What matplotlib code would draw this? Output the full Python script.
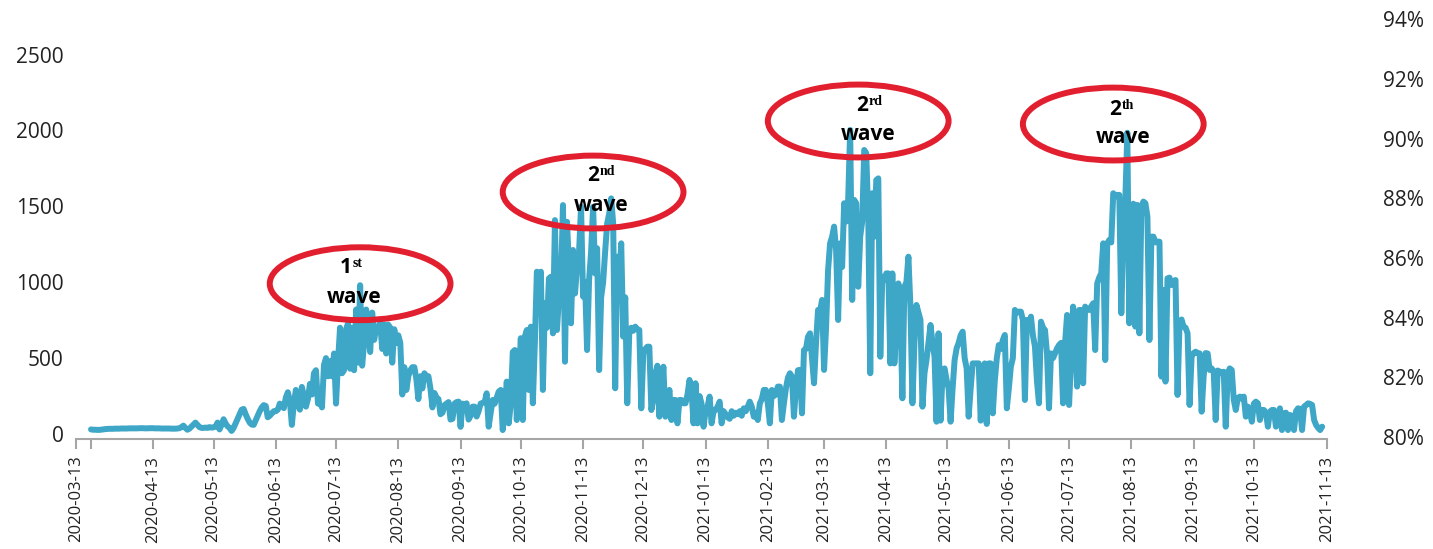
import matplotlib
matplotlib.use("Agg")
import matplotlib.pyplot as plt
import matplotlib.dates as mdates
from matplotlib.patches import Ellipse
import pandas as pd

# daily values, one row per week starting 2020-03-13
cases = [
    30, 28, 28, 27, 27, 28, 30,
    32, 33, 34, 34, 34, 35, 35,
    35, 36, 36, 36, 36, 37, 37,
    37, 37, 37, 38, 38, 38, 37,
    37, 38, 38, 38, 37, 37, 37,
    36, 36, 36, 36, 36, 35, 35,
    35, 36, 38, 45, 55, 40, 28,
    35, 48, 62, 75, 60, 45, 40,
    40, 42, 40, 45, 42, 44, 48,
    75, 30, 60, 97, 70, 50, 40,
    20, 40, 70, 100, 130, 160, 165,
    130, 100, 75, 62, 60, 90, 120,
    150, 175, 190, 185, 110, 120, 135,
    150, 150, 160, 200, 190, 170, 240,
    275, 220, 60, 200, 290, 200, 160,
    310, 250, 180, 230, 330, 260, 400,
    420, 200, 210, 175, 455, 500, 380,
    480, 380, 530, 200, 480, 700, 400,
    420, 690, 730, 430, 700, 420, 820,
    470, 980, 450, 600, 820, 700, 540,
    800, 620, 700, 710, 730, 560, 720,
    530, 720, 700, 470, 690, 600, 650,
    600, 260, 440, 290, 380, 420, 440,
    440, 360, 230, 380, 300, 400, 380,
    380, 300, 175, 270, 240, 230, 130,
    140, 190, 200, 210, 95, 100, 200,
    210, 213, 47, 200, 190, 202, 95,
    120, 180, 180, 115, 150, 200, 205,
    210, 268, 48, 140, 224, 200, 240,
    279, 290, 26, 150, 345, 70, 200,
    540, 553, 92, 350, 631, 92, 641,
    685, 290, 707, 202, 600, 1069, 900,
    1069, 290, 861, 700, 1025, 1036, 663,
    1409, 685, 900, 1000, 1508, 476, 1398,
    1100, 729, 1212, 926, 1100, 1200, 1497,
    905, 1000, 553, 1014, 1200, 1497, 1058,
    1223, 421, 900, 1000, 1201, 1387, 1450,
    1552, 1387, 301, 1168, 1000, 1256, 641,
    900, 202, 663, 700, 680, 707, 690,
    685, 169, 531, 560, 575, 575, 158,
    224, 400, 450, 114, 300, 443, 114,
    200, 290, 92, 224, 224, 70, 224,
    224, 202, 202, 260, 356, 290, 70,
    334, 70, 250, 200, 48, 150, 180,
    246, 70, 150, 160, 180, 213, 70,
    150, 130, 110, 100, 150, 120, 140,
    130, 150, 120, 169, 150, 180, 213,
    180, 114, 140, 92, 200, 230, 290,
    290, 200, 70, 290, 250, 260, 312,
    312, 92, 200, 300, 370, 400, 378,
    114, 300, 420, 422, 136, 553, 560,
    641, 663, 500, 334, 600, 817, 806,
    883, 422, 700, 1080, 1256, 1300, 1366,
    1212, 751, 1256, 1100, 1520, 1400, 1542,
    2003, 883, 1542, 1520, 970, 1300, 1400,
    1871, 1850, 1432, 400, 1586, 1300, 1673,
    1684, 509, 1036, 1014, 1058, 1058, 465,
    1058, 465, 700, 992, 800, 235, 970,
    1000, 1168, 839, 202, 600, 850, 800,
    751, 180, 400, 487, 600, 718, 600,
    509, 81, 663, 88, 400, 432, 356,
    300, 81, 300, 487, 564, 600, 650,
    674, 500, 432, 114, 300, 465, 465,
    465, 465, 88, 400, 465, 66, 465,
    465, 136, 350, 498, 586, 560, 619,
    652, 169, 300, 443, 500, 817, 800,
    806, 806, 750, 224, 751, 700, 773,
    650, 575, 350, 202, 740, 700, 685,
    531, 169, 531, 500, 531, 564, 586,
    600, 202, 600, 784, 191, 500, 839,
    619, 312, 817, 817, 334, 839, 820,
    817, 840, 861, 553, 992, 1031, 1058,
    1256, 487, 1256, 1278, 1262, 1586, 1564,
    1575, 1575, 795, 1300, 1542, 1985, 729,
    1498, 1517, 707, 1509, 663, 1495, 1531,
    1520, 1432, 619, 1300, 1300, 1262, 1267,
    1267, 378, 949, 345, 1025, 1030, 982,
    1008, 1014, 257, 729, 754, 707, 700,
    663, 191, 509, 533, 542, 533, 531,
    147, 378, 533, 530, 422, 432, 411,
    92, 418, 411, 400, 410, 48, 400,
    432, 421, 224, 158, 235, 246, 232,
    246, 114, 180, 150, 81, 200, 213,
    202, 92, 158, 158, 140, 48, 147,
    158, 158, 48, 120, 169, 26, 136,
    140, 26, 125, 120, 26, 150, 169,
    165, 26, 180, 190, 202, 198, 191,
    92, 59, 40, 26, 48,
]

left_ticks = [0, 500, 1000, 1500, 2000, 2500]
right_ticks = [0.80, 0.82, 0.84, 0.86, 0.88, 0.90, 0.92, 0.94]
x_tick_labels = [
    "2020-03-13", "", "2020-04-13", "2020-05-13", "2020-06-13", "2020-07-13",
    "2020-08-13", "2020-09-13", "2020-10-13", "2020-11-13", "2020-12-13",
    "2021-01-13", "2021-02-13", "2021-03-13", "2021-04-13", "2021-05-13",
    "2021-06-13", "2021-07-13", "2021-08-13", "2021-09-13", "2021-10-13",
    "2021-11-13",
]
wave_nums = ["1", "2", "2", "2"]
wave_sups = ["st", "nd", "rd", "th"]

# annotation placement (ellipse centre, number/superscript split, "wave" centre)
ell_centres = [("2020-07-25", 990), ("2020-11-18", 1594),
               ("2021-03-30", 2062), ("2021-08-04", 2042)]
num_pos = [("2020-07-21", 1100), ("2020-11-21", 1703),
           ("2021-04-04", 2167), ("2021-08-08", 2141)]
word_pos = [("2020-07-22", 896), ("2020-11-22", 1505),
            ("2021-04-04", 1970), ("2021-08-09", 1950)]

LINE = "#3ea6c6"
RED = "#e21f2f"
GREY = "#a6a6a6"

plt.rcParams["font.family"] = ["Open Sans", "DejaVu Sans"]

start = pd.Timestamp("2020-03-13")
dates = pd.date_range(start, periods=len(cases), freq="D")

fig = plt.figure(figsize=(14.33, 5.49), dpi=100)
ax = fig.add_axes([0.053, 0.2004, 0.873, 0.765])
ax2 = ax.twinx()

ax.plot(mdates.date2num(dates), cases, color=LINE, lw=4.3,
        solid_joinstyle="round", solid_capstyle="round", zorder=2)

x_lo = mdates.date2num(start) - 7.5
x_hi = mdates.date2num(start) + 615.4
ax.set_xlim(x_lo, x_hi)
ax.set_ylim(-33, 2734)
ax2.set_ylim(0.7994, 0.9401)

months = mdates.date2num(pd.date_range("2020-03-13", "2021-10-13",
                                       freq=pd.DateOffset(months=1)))
ax.set_xticks([x_lo] + list(months) + [x_hi])
ax.set_xticklabels(x_tick_labels, rotation=90)
ax.set_yticks(left_ticks)
ax.set_yticklabels([str(v) for v in left_ticks])
ax2.set_yticks(right_ticks)
ax2.set_yticklabels([f"{round(v * 100)}%" for v in right_ticks])

for a in (ax, ax2):
    for s in ("top", "left", "right"):
        a.spines[s].set_visible(False)
ax2.spines["bottom"].set_visible(False)
ax.spines["bottom"].set_color(GREY)
ax.spines["bottom"].set_linewidth(1.5)

ax.tick_params(axis="x", length=7, width=1.5, color=GREY, pad=5,
               labelsize=12, labelcolor="#222222")
ax.tick_params(axis="y", length=0, pad=9, labelsize=15, labelcolor="#222222")
ax2.tick_params(axis="y", length=0, pad=40, labelsize=15, labelcolor="#222222")

for i in range(len(wave_nums)):
    cx = mdates.date2num(pd.Timestamp(ell_centres[i][0]))
    ax.add_patch(Ellipse((cx, ell_centres[i][1]), 90, 480, fill=False,
                         edgecolor=RED, lw=4.3, zorder=3))
    nx = mdates.date2num(pd.Timestamp(num_pos[i][0]))
    ax.text(nx, num_pos[i][1], wave_nums[i], ha="right", va="center",
            fontsize=15, fontweight="bold", color="black", zorder=4)
    ax.text(nx + 0.3, num_pos[i][1] + 25, wave_sups[i], ha="left", va="center",
            fontsize=10, fontweight="bold", color="black",
            family=["Liberation Serif", "DejaVu Serif"], zorder=4)
    wx = mdates.date2num(pd.Timestamp(word_pos[i][0]))
    ax.text(wx, word_pos[i][1], "wave", ha="center", va="center",
            fontsize=15, fontweight="bold", color="black", zorder=4)

fig.savefig("out.png", dpi=100)
